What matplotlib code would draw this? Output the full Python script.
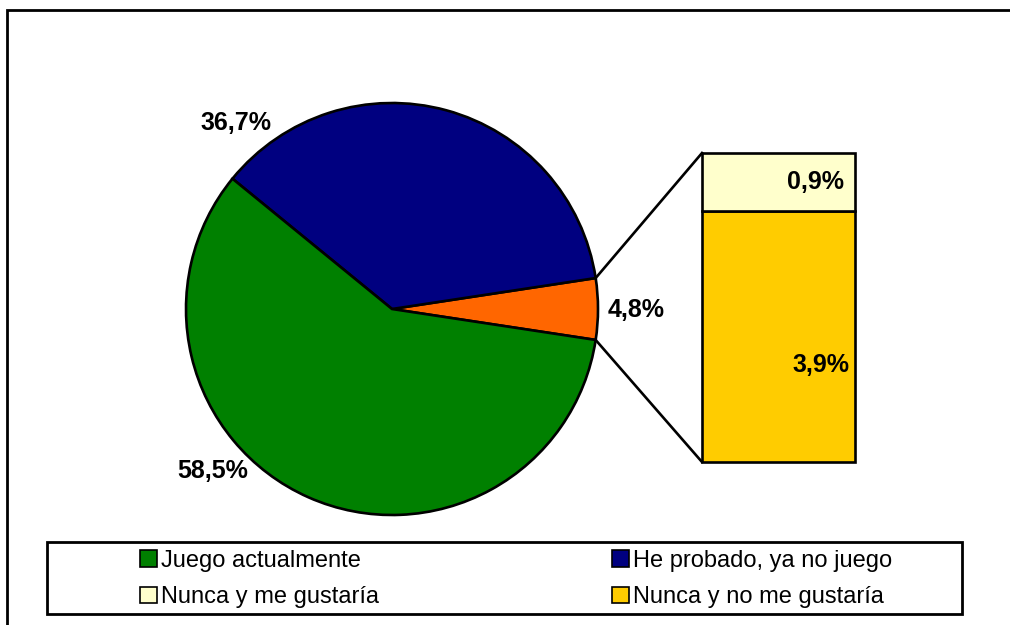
import numpy as np
import matplotlib
matplotlib.use("Agg")
import matplotlib.pyplot as plt
from matplotlib.patches import Patch, Rectangle

plt.rcParams["font.family"] = ["Liberation Sans", "DejaVu Sans"]

# data
pie_labels = ["Nunca", "He probado, ya no juego", "Juego actualmente"]
pie_values = [4.8, 36.7, 58.5]
pie_colors = ["#FF6600", "#000080", "#008000"]

bar_labels = ["Nunca y no me gustaría", "Nunca y me gustaría"]
bar_values = [3.9, 0.9]
bar_colors = ["#FFCC00", "#FFFFCC"]

legend_order = ["Juego actualmente", "Nunca y me gustaría",
                "He probado, ya no juego", "Nunca y no me gustaría"]
legend_colors = {"Juego actualmente": "#008000", "He probado, ya no juego": "#000080",
                 "Nunca y me gustaría": "#FFFFCC", "Nunca y no me gustaría": "#FFCC00"}

W, H = 1010, 625
fig = plt.figure(figsize=(W / 100, H / 100), dpi=100)
ax = fig.add_axes([0, 0, 1, 1])

# pie (pixel coords, y up)
cx, cy, r = 392, H - 309, 206
half = pie_values[0] / 100 * 360 / 2
ax.pie(pie_values, colors=pie_colors, startangle=-half, counterclock=True,
       center=(cx, cy), radius=r,
       wedgeprops=dict(edgecolor="black", linewidth=1.9))

# stacked bar for the "Nunca" slice
bx0, bw = 702, 153
btop, bbot = H - 153, H - 462
scale = (btop - bbot) / sum(bar_values)
bottom = bbot
for v, c in zip(bar_values, bar_colors):
    ax.add_patch(Rectangle((bx0, bottom), bw, v * scale, facecolor=c,
                           edgecolor="black", linewidth=1.9, zorder=3))
    bottom += v * scale

# connector lines
a = np.deg2rad(half)
ax.plot([cx + r * np.cos(a), bx0], [cy + r * np.sin(a), btop], color="black", lw=1.9)
ax.plot([cx + r * np.cos(-a), bx0], [cy + r * np.sin(-a), bbot], color="black", lw=1.9)

# labels
lab_kw = dict(fontsize=18, fontweight="bold", va="center")
ax.text(236, H - 123, "36,7%", ha="center", **lab_kw)
ax.text(213, H - 471, "58,5%", ha="center", **lab_kw)
ax.text(636, H - 310, "4,8%", ha="center", **lab_kw)
ax.text(844, bbot + (bar_values[0] + bar_values[1] / 2) * scale, "0,9%", ha="right", **lab_kw)
ax.text(849, H - 365, "3,9%", ha="right", **lab_kw)

# outer frame (cut off at right and bottom)
ax.add_patch(Rectangle((7, -50), 1100, H - 10 + 50, fill=False,
                       edgecolor="black", linewidth=2, clip_on=False))

# legend frame + legend
ax.add_patch(Rectangle((47, H - 614), 915, 72, fill=False, edgecolor="black", linewidth=2))
handles = [Patch(facecolor=legend_colors[k], edgecolor="black", linewidth=1.2) for k in legend_order]
ax.legend(handles, legend_order, ncol=2, frameon=False, fontsize=17,
          loc="center", bbox_to_anchor=(516 / W, (H - 579) / H),
          bbox_transform=fig.transFigure,
          handlelength=0.72, handleheight=0.72, handletextpad=0.15,
          labelspacing=0.62, columnspacing=9.9, borderpad=0)

ax.set_xlim(0, W)
ax.set_ylim(0, H)
ax.set_aspect("auto")
ax.axis("off")

fig.savefig("out.png", dpi=100)
